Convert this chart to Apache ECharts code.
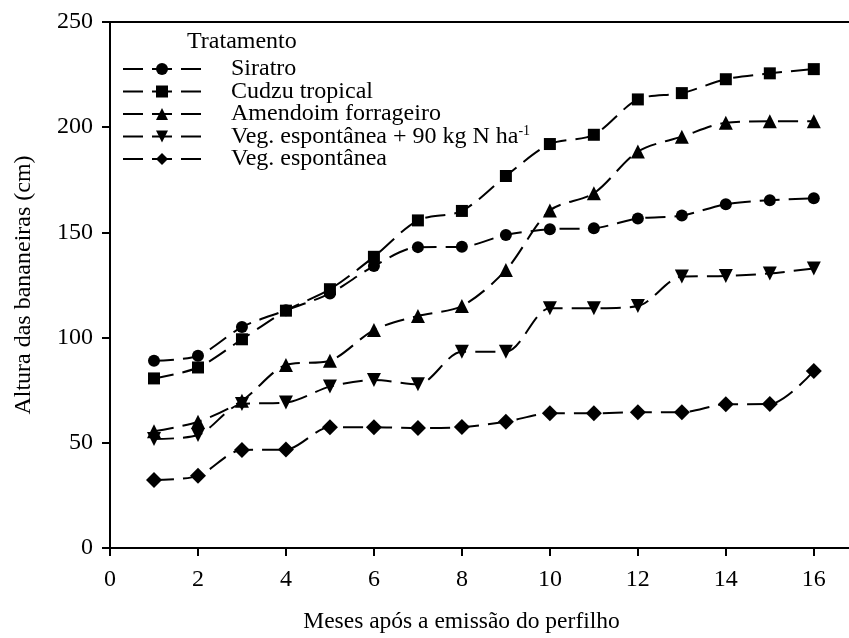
<!DOCTYPE html>
<html>
<head>
<meta charset="utf-8">
<script src="https://cdn.jsdelivr.net/npm/echarts@6/dist/echarts.min.js"></script>
<style>
  html, body { margin: 0; padding: 0; background: #fff; }
  #chart { width: 849px; height: 638px; }
</style>
</head>
<body>
<div id="chart"></div>
<script>
// meses após a emissão do perfilho
const months = [1, 2, 3, 4, 5, 6, 7, 8, 9, 10, 11, 12, 13, 14, 15, 16];

// altura das bananeiras (cm)
const siratro = [89, 91.4, 105, 113, 121, 134, 143, 143.2, 148.8, 151.5, 152, 156.6, 158, 163.4, 165.3, 166.2];
const cudzu = [80.6, 85.8, 99.2, 112.8, 123, 138.4, 155.7, 160.2, 176.8, 192, 196.4, 213.2, 216.2, 222.8, 225.6, 227.6];
const amendoim = [55.5, 60, 70, 87, 89, 103.6, 110.3, 115, 132.1, 160.4, 168.6, 188.4, 195.5, 202.1, 202.8, 202.8];
const vegN = [51.8, 53.7, 68.5, 69.1, 76.7, 79.8, 77.8, 93.3, 93.3, 113.9, 113.9, 115, 129, 129.3, 130.5, 132.9];
const veg = [32.3, 34.3, 46.6, 46.8, 57.4, 57.4, 57, 57.5, 60, 64, 64, 64.5, 64.5, 68.3, 68.4, 84.1];

const xTicks = [0, 2, 4, 6, 8, 10, 12, 14, 16];
const yTicks = [0, 50, 100, 150, 200, 250];

const names = ["Siratro", "Cudzu tropical", "Amendoim forrageiro", "Veg. espontânea + 90 kg N ha-1", "Veg. espontânea"];
const values = [siratro, cudzu, amendoim, vegN, veg];
const symbols = ["circle", "rect", "triangle", "path://M0,0 L10,0 L5,9 Z", "diamond"];
const sizes = [12, 12, 14, 14, 16];

const font = "Liberation Serif";
const fs = 24;

const myChart = echarts.init(document.getElementById("chart"));

const series = names.map((name, i) => ({
  name: name,
  type: "line",
  data: months.map((m, j) => [m, values[i][j]]),
  symbol: symbols[i],
  symbolSize: sizes[i],
  smooth: 0.3,
  itemStyle: { color: "#000" },
  lineStyle: { color: "#000", width: 2, type: [20, 9] },
  emphasis: { disabled: true },
}));

const option = {
  animation: false,
  backgroundColor: "#fff",
  title: {
    text: "Tratamento",
    left: 182,
    top: 25,
    textStyle: { fontFamily: font, fontSize: fs, fontWeight: "normal", color: "#000" },
  },
  legend: {
    orient: "vertical",
    left: 117,
    top: 52,
    itemWidth: 78,
    itemHeight: 15,
    itemGap: -1.5,
    data: names,
    formatter: (n) => n === names[3] ? "Veg. espontânea + 90 kg N ha{sup|-1}" : n,
    textStyle: {
      fontFamily: font,
      fontSize: fs,
      color: "#000",
      padding: [0, 0, 0, 25],
      rich: {
        sup: { fontFamily: font, fontSize: 14, lineHeight: 10, color: "#000", verticalAlign: "top" },
      },
    },
  },
  grid: { left: 110, right: 0, top: 22, bottom: 90, outerBoundsMode: "none" },
  xAxis: [
    {
      type: "value",
      min: 0,
      max: 16.8,
      interval: 2,
      name: "Meses após a emissão do perfilho",
      nameLocation: "middle",
      nameGap: 62,
      nameTextStyle: { fontFamily: font, fontSize: 23.5, color: "#000", padding: [0, 36, 0, 0] },
      splitLine: { show: false },
      axisLine: { lineStyle: { color: "#000", width: 2 } },
      axisTick: { inside: false, customValues: xTicks, length: 8, lineStyle: { color: "#000", width: 2 } },
      axisLabel: { customValues: xTicks, margin: 20, fontFamily: font, fontSize: fs, color: "#000" },
    },
    {
      type: "value",
      position: "top",
      min: 0,
      max: 16.8,
      axisLine: { show: true, lineStyle: { color: "#000", width: 2 } },
      axisTick: { show: false },
      axisLabel: { show: false },
      splitLine: { show: false },
    },
  ],
  yAxis: {
    type: "value",
    min: 0,
    max: 250,
    interval: 50,
    name: "Altura das bananeiras (cm)",
    nameLocation: "middle",
    nameGap: 74,
    nameTextStyle: { fontFamily: font, fontSize: fs, color: "#000" },
    splitLine: { show: false },
    axisLine: { show: true, lineStyle: { color: "#000", width: 2 } },
    axisTick: { inside: false, customValues: yTicks, length: 8, lineStyle: { color: "#000", width: 2 } },
    axisLabel: { customValues: yTicks, margin: 17, fontFamily: font, fontSize: fs, color: "#000" },
  },
  series: series,
};

myChart.setOption(option);
</script>
</body>
</html>
